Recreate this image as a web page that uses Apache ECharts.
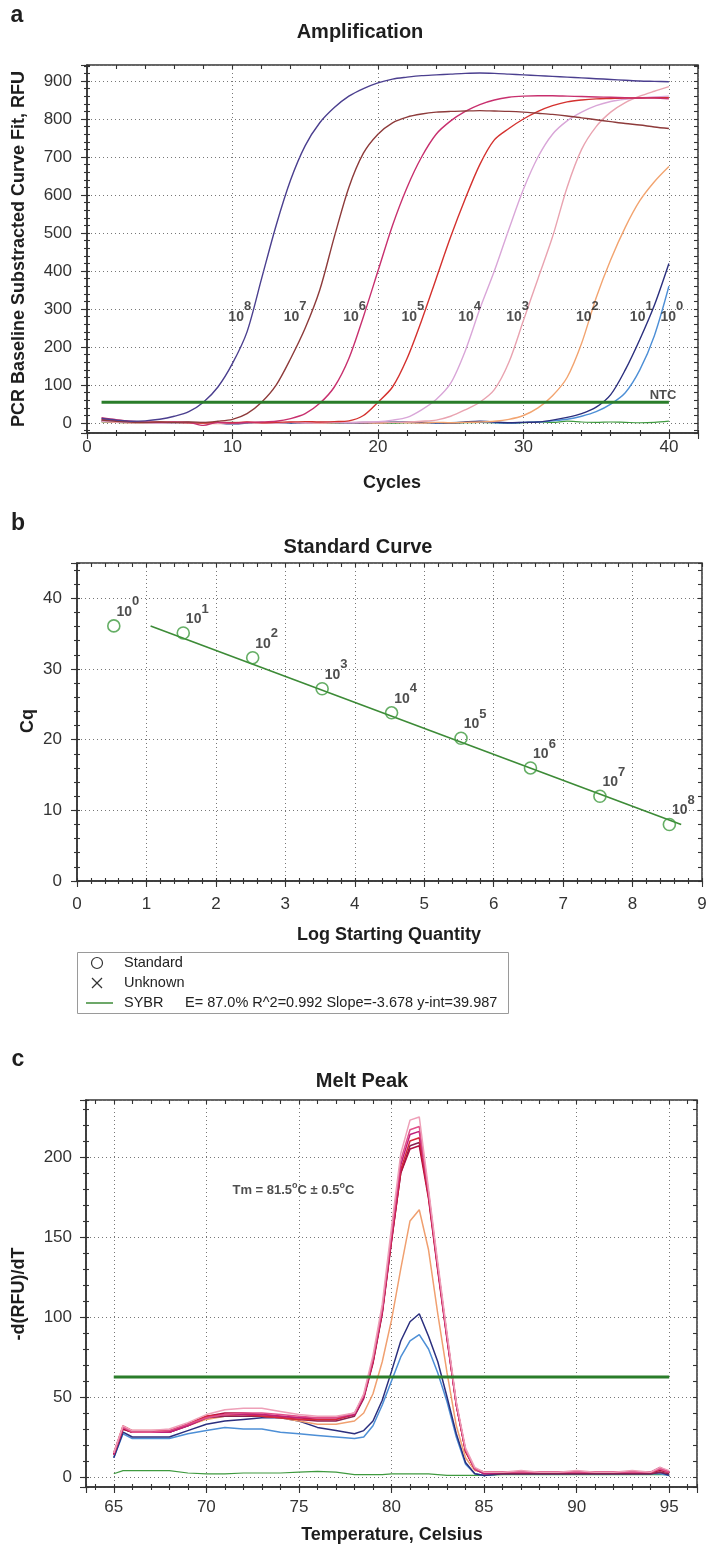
<!DOCTYPE html>
<html><head><meta charset="utf-8">
<script src="https://cdn.jsdelivr.net/npm/echarts@6/dist/echarts.min.js"></script>
<style>html,body{margin:0;padding:0;background:#fff}#c{width:709px;height:1546px}</style>
</head><body><div id="c"></div>
<script>
// ---------- Panel a: Amplification ----------
const cycles = [1,2,3,4,5,6,7,8,9,10,11,12,13,14,15,16,17,18,19,20,21,22,23,24,25,26,27,28,29,30,31,32,33,34,35,36,37,38,39,40];
const amp10e8 = [12,8,5,6,10,18,30,55,95,157,240,380,520,640,730,790,830,860,880,895,905,910,914,916,918,920,921,920,918,916,914,912,910,908,906,904,902,900,899,898];
const amp10e7 = [8,5,3,2,3,2,3,2,5,10,25,55,100,170,250,350,490,620,710,760,790,805,813,818,820,821,822,821,820,818,815,812,808,803,798,793,788,784,779,775];
const amp10e6 = [14,9,5,3,2,3,2,-6,2,0,2,3,5,12,25,52,95,170,280,400,520,620,700,760,795,820,838,850,857,860,861,861,860,859,858,857,856,855,855,853];
const amp10e5 = [10,7,4,2,3,2,1,0,2,1,3,1,2,3,4,3,4,6,20,55,95,170,270,380,490,590,680,745,775,800,820,835,845,850,853,854,855,855,856,856];
const amp10e4 = [6,4,2,1,0,2,1,2,0,1,2,1,0,2,1,2,3,2,3,4,8,15,35,62,105,190,300,400,510,615,700,760,795,818,835,846,852,856,858,860];
const amp10e3 = [5,3,1,2,0,1,2,0,1,2,1,0,1,2,1,0,2,1,2,3,2,3,5,8,18,35,55,88,160,270,380,490,620,720,780,818,843,860,873,885];
const amp10e2 = [4,2,1,0,1,2,1,0,-1,1,2,0,1,2,1,0,1,2,1,0,2,1,0,2,1,2,3,5,10,20,40,72,120,210,330,430,515,585,635,675];
const amp10e1 = [6,4,2,1,0,1,2,1,0,-2,0,1,2,1,0,1,2,1,0,1,2,3,2,1,0,3,5,3,1,2,3,8,15,25,42,75,140,220,310,420];
const amp10e0 = [5,3,2,1,0,2,1,0,1,0,1,2,1,0,1,2,1,0,1,2,3,2,1,0,1,2,3,1,0,2,3,6,10,18,30,50,80,140,230,360];
const ampNTC  = [3,2,1,0,1,2,1,0,1,2,1,0,-1,1,2,1,0,1,2,1,0,1,2,1,0,1,2,1,0,1,3,2,5,3,2,3,2,1,2,5];
const ampThresholdX = [1, 40];
const ampThreshold = 55;
const ampLabelX = [10.5, 14.3, 18.4, 22.4, 26.3, 29.6, 34.4, 38.1, 40.2];
const ampLabelExp = ['8','7','6','5','4','3','2','1','0'];
const ampLabelY = 280;
const ntcLabel = [39.6, 74];

// ---------- Panel b: Standard Curve ----------
const logQty = [0.53,1.53,2.53,3.53,4.53,5.53,6.53,7.53,8.53];
const cqValues = [36.1,35.1,31.6,27.2,23.8,20.2,16.0,12.0,8.0];
const stdExp = ['0','1','2','3','4','5','6','7','8'];
const fitX = [1.06, 8.7];
const fitY = [36.09, 7.99];

// ---------- Panel c: Melt Peak ----------
const tempC = [65,65.5,66,67,68,69,70,71,72,73,74,75,76,77,78,78.5,79,79.5,80,80.5,81,81.5,82,82.5,83,83.5,84,84.5,85,86,87,88,89,90,91,92,93,94,94.5,95];
const meltPink   = [15,32,29,29,30,34,39,42,43,43,41,39,38,38,40,52,76,108,156,202,223,225,180,134,90,47,18,6,3,3,4,3,3,4,3,3,4,3,6,4];
const meltRose   = [15,31,28,28,29,33,37,39,40,40,39,38,37,37,40,51,74,105,152,198,217,219,178,132,88,46,17,5,3,3,3,3,3,3,3,3,3,3,5,3];
const meltMagenta= [14,31,28,28,28,32,37,39,39,39,38,37,37,37,39,50,73,104,150,195,214,216,177,131,87,45,17,5,2,3,3,3,3,3,3,3,3,3,6,3];
const meltRed    = [15,32,29,29,29,33,38,39,39,38,37,36,36,36,39,50,72,103,148,192,210,212,175,130,87,45,16,5,3,3,3,3,3,3,3,3,3,3,5,3];
const meltPlum   = [14,30,28,28,28,32,37,38,38,38,37,36,35,35,38,49,71,102,147,190,207,209,176,131,88,46,16,5,2,2,2,2,2,2,2,2,2,2,3,2];
const meltCrimson= [14,30,28,28,28,33,38,40,40,39,38,37,36,36,39,50,72,103,148,190,205,207,174,129,86,45,16,5,3,3,3,3,3,3,3,3,3,3,4,3];
const meltOrange = [14,30,28,28,28,32,36,38,39,38,37,35,33,33,35,40,52,72,98,130,160,167,142,102,65,32,12,4,3,3,3,3,3,3,3,3,3,3,4,3];
const meltNavy   = [12,28,25,25,25,29,33,35,36,37,37,35,31,29,27,29,35,48,66,85,97,102,88,72,50,27,9,2,1,2,2,2,2,2,2,2,2,2,3,1];
const meltBlue   = [12,27,24,24,24,27,29,31,30,30,28,27,26,25,24,25,32,45,60,75,85,89,80,65,47,25,8,2,1,2,2,2,2,2,2,2,2,2,2,1];
const meltNTC    = [2,4,4,4,4,2.5,2,2,2.5,2.5,2.5,3,3.5,3,1.5,1.5,1.5,1.5,2,2,2,2,2,1.5,1,1,1,1,1,1.5,1.5,1.5,1.5,1.5,1.5,1.5,1.5,1.5,1.5,1.5];
const meltThresholdX = [65, 95];
const meltThreshold = 62.5;
const tmLabel = [74.7, 179];

// ---------- helpers ----------
const FONT = '"Liberation Sans", Arial, Helvetica, sans-serif';
const pairs = (xs, ys) => xs.map((x, i) => [x, ys[i]]);
function isMul(v, step) { const r = v / step; return Math.abs(r - Math.round(r)) < 1e-6; }
function scaleOf(min, max, step) {
  if (isMul(min, step)) return { min, max, interval: step };
  return { min, max, minInterval: step, maxInterval: step, splitNumber: Math.round((max - min) / step) };
}
const tickStyle = { color: '#333', width: 1.1 };
function axesFor(dim, g, min, max, major, minor, margin) {
  const isX = dim === 'x';
  const pos = isX ? 'bottom' : 'left';
  const opp = isX ? 'top' : 'right';
  const base = { type: 'value', gridIndex: g, axisLine: { show: false, onZero: false },
    axisLabel: { show: false }, splitLine: { show: false }, silent: true };
  return [
    Object.assign({}, base, scaleOf(min, max, major), { position: pos,
      axisLine: { show: true, onZero: false, lineStyle: { color: '#333', width: 1.5 } },
      axisTick: { show: true, length: 6, lineStyle: tickStyle },
      axisLabel: { show: true, margin: margin, fontSize: 17, color: '#333', fontFamily: FONT,
        formatter: v => isMul(v, major) ? String(Math.round(v * 1000) / 1000) : '' },
      splitLine: { show: true, lineStyle: { type: [1, 3], color: '#777', width: 1 } } }),
    Object.assign({}, base, scaleOf(min, max, minor), { position: pos,
      axisTick: { show: true, length: 3, lineStyle: tickStyle } }),
    Object.assign({}, base, scaleOf(min, max, minor), { position: pos,
      axisTick: { show: true, inside: true, length: 3, lineStyle: tickStyle } }),
    Object.assign({}, base, scaleOf(min, max, minor), { position: opp,
      axisTick: { show: true, inside: true, length: 4, lineStyle: tickStyle } })
  ];
}

const xAxes = [].concat(
  axesFor('x', 0, 0, 42, 10, 2, 6),
  axesFor('x', 1, 0, 9, 1, 0.2, 15),
  axesFor('x', 2, 63.5, 96.5, 5, 1, 12)
);
const yAxes = [].concat(
  axesFor('y', 0, -26, 942, 100, 20, 15),
  axesFor('y', 1, 0, 45, 10, 2, 15),
  axesFor('y', 2, -6.25, 235.6, 50, 10, 14)
);

const gridBase = { show: true, borderColor: '#333', borderWidth: 1.5, backgroundColor: 'transparent', containLabel: false, outerBoundsMode: 'none' };
const grids = [
  Object.assign({ left: 87, top: 65, width: 611, height: 368 }, gridBase),
  Object.assign({ left: 77, top: 563, width: 625, height: 318 }, gridBase),
  Object.assign({ left: 86, top: 1100, width: 611, height: 387 }, gridBase)
];

function lineSeries(g, xs, ys, color, width, smooth) {
  return { type: 'line', xAxisIndex: 4 * g, yAxisIndex: 4 * g, data: pairs(xs, ys), showSymbol: false,
    symbol: 'none', smooth: smooth ? 0.3 : false, silent: true,
    lineStyle: { color: color, width: width }, itemStyle: { color: color } };
}

const expRich = {
  b: { fontSize: 14, fontWeight: 'bold', color: '#222', fontFamily: FONT },
  s: { fontSize: 13, fontWeight: 'bold', color: '#222', fontFamily: FONT, padding: [0, 0, 20, 0] }
};

const series = [
  lineSeries(0, cycles, ampNTC, '#3f9a3f', 1.2, true),
  lineSeries(0, cycles, amp10e0, '#4d8fd6', 1.4, true),
  lineSeries(0, cycles, amp10e1, '#2b2f7e', 1.4, true),
  lineSeries(0, cycles, amp10e2, '#f2a470', 1.4, true),
  lineSeries(0, cycles, amp10e3, '#e9a3b0', 1.4, true),
  lineSeries(0, cycles, amp10e4, '#d9a6d8', 1.4, true),
  lineSeries(0, cycles, amp10e5, '#d4312e', 1.4, true),
  lineSeries(0, cycles, amp10e6, '#c8306e', 1.4, true),
  lineSeries(0, cycles, amp10e7, '#8e3b3b', 1.4, true),
  lineSeries(0, cycles, amp10e8, '#4b3f8f', 1.4, true),
  lineSeries(0, ampThresholdX, ampThresholdX.map(() => ampThreshold), '#2a7d2a', 3, false),
  { type: 'scatter', xAxisIndex: 0, yAxisIndex: 0, symbolSize: 0, silent: true, z: 6,
    data: ampLabelX.map((x, i) => ({ value: [x, ampLabelY], label: { formatter: '{b|10}{s|' + ampLabelExp[i] + '}' } })),
    label: { show: true, position: 'inside', rich: expRich } },
  { type: 'scatter', xAxisIndex: 0, yAxisIndex: 0, symbolSize: 0, silent: true, z: 6,
    data: [{ value: ntcLabel }],
    label: { show: true, position: 'inside', formatter: 'NTC', fontSize: 13, fontWeight: 'bold', color: '#222', fontFamily: FONT } },

  // Panel b
  { type: 'line', xAxisIndex: 4, yAxisIndex: 4, data: pairs(fitX, fitY), showSymbol: false, symbol: 'none', silent: true,
    lineStyle: { color: '#3d8b37', width: 1.6 } },
  { type: 'scatter', xAxisIndex: 4, yAxisIndex: 4, symbol: 'circle', symbolSize: 12, silent: true, z: 5,
    itemStyle: { color: 'rgba(0,0,0,0)', borderColor: '#3f9a3f', borderWidth: 1.6 },
    data: logQty.map((x, i) => ({ value: [x, cqValues[i]], label: { formatter: '{b|10}{s|' + stdExp[i] + '}' } })),
    label: { show: true, position: 'inside', offset: [14, -14], rich: expRich } },

  // Panel c
  lineSeries(2, tempC, meltNTC, '#3f9a3f', 1.2, false),
  lineSeries(2, tempC, meltBlue, '#4d8fd6', 1.5, false),
  lineSeries(2, tempC, meltNavy, '#2b2f7e', 1.5, false),
  lineSeries(2, tempC, meltOrange, '#f0a070', 1.5, false),
  lineSeries(2, tempC, meltPlum, '#8a2050', 1.5, false),
  lineSeries(2, tempC, meltCrimson, '#b01040', 1.5, false),
  lineSeries(2, tempC, meltRed, '#d82838', 1.5, false),
  lineSeries(2, tempC, meltMagenta, '#c0207a', 1.5, false),
  lineSeries(2, tempC, meltRose, '#e0508a', 1.5, false),
  lineSeries(2, tempC, meltPink, '#eea0b8', 1.5, false),
  lineSeries(2, meltThresholdX, meltThresholdX.map(() => meltThreshold), '#2a7d2a', 3, false),
  { type: 'scatter', xAxisIndex: 8, yAxisIndex: 8, symbolSize: 0, silent: true, z: 6,
    data: [{ value: tmLabel }],
    label: { show: true, position: 'inside',
      formatter: '{t|Tm = 81.5}{o|o}{t|C ± 0.5}{o|o}{t|C}',
      rich: { t: { fontSize: 13, fontWeight: 'bold', color: '#222', fontFamily: FONT },
              o: { fontSize: 9, fontWeight: 'bold', color: '#222', fontFamily: FONT, padding: [0, 0, 10, 0] } } } }
];

function txt(x, y, text, font, opts) {
  return Object.assign({ type: 'text', x: x, y: y, silent: true, z: 100,
    style: { text: text, x: 0, y: 0, font: font, fill: '#1e1e1e', textAlign: 'center', align: 'center',
      textVerticalAlign: 'middle', verticalAlign: 'middle' } }, opts || {});
}
function ltxt(x, y, text, font) {
  return { type: 'text', x: x, y: y, silent: true, z: 100,
    style: { text: text, x: 0, y: 0, font: font, fill: '#222', textAlign: 'left', align: 'left',
      textVerticalAlign: 'middle', verticalAlign: 'middle' } };
}
const BOLD20 = 'bold 20px ' + FONT, BOLD18 = 'bold 18px ' + FONT, BOLD22 = 'bold 23px ' + FONT, LEG = '14.5px ' + FONT;
const graphics = [
  txt(17, 16, 'a', BOLD22), txt(18, 524, 'b', BOLD22), txt(18, 1060, 'c', BOLD22),
  txt(360, 32, 'Amplification', BOLD20), txt(358, 547, 'Standard Curve', BOLD20), txt(362, 1081, 'Melt Peak', BOLD20),
  txt(392, 483, 'Cycles', BOLD18), txt(389, 935, 'Log Starting Quantity', BOLD18), txt(392, 1535, 'Temperature, Celsius', BOLD18),
  txt(19, 249, 'PCR Baseline Substracted Curve Fit, RFU', BOLD18, { rotation: Math.PI / 2 }),
  txt(28, 721, 'Cq', BOLD18, { rotation: Math.PI / 2 }),
  txt(19, 1294, '-d(RFU)/dT', BOLD18, { rotation: Math.PI / 2 }),
  { type: 'rect', silent: true, z: 90, shape: { x: 77.5, y: 952.5, width: 431, height: 61 },
    style: { fill: '#fff', stroke: '#9a9a9a', lineWidth: 1 } },
  { type: 'circle', silent: true, z: 100, shape: { cx: 97, cy: 963, r: 5.5 }, style: { fill: 'none', stroke: '#333', lineWidth: 1.2 } },
  { type: 'line', silent: true, z: 100, shape: { x1: 92, y1: 978, x2: 102, y2: 988 }, style: { stroke: '#333', lineWidth: 1.2 } },
  { type: 'line', silent: true, z: 100, shape: { x1: 102, y1: 978, x2: 92, y2: 988 }, style: { stroke: '#333', lineWidth: 1.2 } },
  { type: 'line', silent: true, z: 100, shape: { x1: 86, y1: 1003, x2: 113, y2: 1003 }, style: { stroke: '#3d8b37', lineWidth: 1.5 } },
  ltxt(124, 963, 'Standard', LEG),
  ltxt(124, 983, 'Unknown', LEG),
  ltxt(124, 1003, 'SYBR', LEG),
  ltxt(185, 1003, 'E= 87.0% R^2=0.992 Slope=-3.678 y-int=39.987', LEG)
];

const chart = echarts.init(document.getElementById('c'), null, { renderer: 'canvas', width: 709, height: 1546 });
chart.setOption({
  backgroundColor: '#ffffff',
  animation: false,
  textStyle: { fontFamily: FONT },
  grid: grids,
  xAxis: xAxes,
  yAxis: yAxes,
  series: series,
  graphic: graphics
});
</script>
</body></html>
